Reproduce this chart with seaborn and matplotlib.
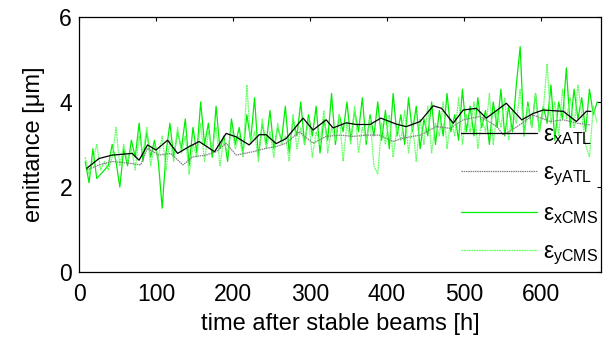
import numpy as np
import seaborn as sns
import matplotlib
matplotlib.use('Agg')
from matplotlib import pyplot as plt

# ATLAS emittances (smoothed, irregular sampling) [h], [um]
t_x_atl = [10, 26, 43, 69, 78, 89, 100, 115, 128, 143, 156, 176, 191, 204, 221, 234,
           243, 256, 269, 291, 304, 321, 330, 347, 360, 378, 392, 412, 425, 443, 460,
           471, 486, 499, 516, 529, 555, 575, 590, 603, 629, 646, 659, 665]
eps_x_atl = [2.44, 2.67, 2.75, 2.79, 2.63, 2.99, 2.87, 3.10, 2.79, 2.95, 3.07, 2.83,
             3.26, 3.18, 2.99, 3.23, 3.23, 3.02, 3.14, 3.62, 3.34, 3.58, 3.39, 3.51,
             3.47, 3.47, 3.62, 3.48, 3.42, 3.54, 3.91, 3.85, 3.50, 3.81, 3.85, 3.62,
             3.97, 3.58, 3.73, 3.81, 3.78, 3.54, 3.78, 3.78]

t_y_atl = [10, 26, 43, 65, 80, 89, 104, 119, 135, 148, 165, 178, 191, 204, 226, 243,
           256, 269, 286, 304, 321, 339, 356, 373, 390, 408, 421, 443, 464, 482, 499,
           521, 543, 551, 569, 590, 612, 629, 647, 664]
eps_y_atl = [2.40, 2.52, 2.60, 2.56, 2.52, 2.91, 2.75, 2.79, 2.52, 2.71, 2.75, 2.83,
             3.03, 2.75, 2.83, 2.91, 2.95, 3.03, 3.30, 3.03, 3.19, 3.22, 3.19, 3.22,
             3.22, 3.07, 3.15, 3.22, 3.42, 3.38, 3.58, 3.66, 3.42, 3.22, 3.42, 3.69,
             3.54, 3.58, 3.50, 3.46]

# CMS emittances, one value every 5 h starting at 8 h
cms_t0, cms_dt = 8, 5
eps_x_cms = [
    2.6, 2.1, 2.9, 2.2, 2.3, 2.4, 2.5, 3.0, 2.6, 2.0,
    2.9, 2.5, 3.1, 2.7, 3.5, 2.6, 3.3, 2.7, 3.1, 2.6,
    1.5, 2.8, 3.5, 2.7, 3.3, 2.9, 3.6, 2.5, 3.4, 2.8,
    4.0, 3.0, 3.5, 2.7, 3.9, 2.9, 3.2, 2.6, 3.6, 3.0,
    3.4, 2.8, 3.7, 3.1, 4.1, 2.7, 3.5, 3.0, 3.8, 2.9,
    3.4, 3.1, 3.9, 2.8, 3.6, 3.2, 4.0, 3.0, 3.7, 3.2,
    3.9, 2.8, 3.6, 3.1, 4.2, 3.0, 3.7, 3.3, 4.0, 3.1,
    3.8, 3.3, 4.1, 3.0, 3.7, 3.2, 4.0, 3.1, 3.8, 2.9,
    4.2, 3.2, 3.7, 3.0, 4.1, 3.3, 3.9, 2.9, 3.6, 3.2,
    4.0, 3.0, 3.8, 3.2, 4.2, 3.3, 3.7, 3.1, 4.3, 3.3,
    3.9, 3.2, 4.1, 3.4, 3.8, 3.0, 4.0, 3.4, 4.3, 3.2,
    3.9, 3.3, 4.4, 5.3, 3.2, 4.0, 3.4, 4.2, 3.3, 3.9,
    3.5, 4.4, 3.1, 4.0, 3.6, 4.8, 3.4, 4.3, 3.6, 4.1,
    3.3, 4.3, 3.7, 4.0]
eps_y_cms = [
    2.7, 2.3, 2.6, 3.0, 2.4, 2.6, 2.4, 2.7, 3.4, 2.5,
    3.0, 2.6, 2.9, 2.4, 3.2, 2.8, 3.4, 2.5, 3.0, 2.7,
    3.2, 2.4, 3.1, 2.6, 3.4, 2.8, 3.2, 2.3, 3.0, 2.7,
    3.5, 2.6, 3.3, 2.9, 3.4, 2.5, 3.1, 2.8, 3.4, 2.9,
    3.2, 2.7, 4.4, 3.0, 3.3, 2.6, 3.6, 2.9, 3.3, 2.7,
    3.5, 3.0, 3.2, 2.6, 3.7, 2.9, 3.4, 3.0, 3.6, 2.7,
    3.3, 3.0, 3.8, 2.8, 3.4, 3.1, 3.7, 2.6, 3.5, 3.0,
    3.9, 2.8, 3.4, 3.1, 3.6, 2.5, 2.3, 3.5, 3.0, 3.7,
    2.7, 3.4, 3.1, 3.8, 2.8, 3.5, 2.6, 3.6, 3.0, 3.9,
    2.8, 3.5, 3.2, 4.0, 2.9, 3.6, 3.2, 4.1, 3.0, 3.7,
    3.3, 4.0, 2.9, 3.6, 3.3, 4.2, 3.0, 3.8, 3.4, 4.1,
    3.1, 3.8, 3.5, 4.3, 3.2, 3.9, 3.4, 4.2, 3.3, 3.8,
    4.9, 3.5, 4.0, 3.2, 4.3, 3.6, 4.1, 3.4, 4.4, 3.7,
    3.0, 2.7, 3.9, 3.5]

t_x_cms = cms_t0 + cms_dt * np.arange(len(eps_x_cms))
t_y_cms = cms_t0 + cms_dt * np.arange(len(eps_y_cms))

labels = [r'ε$_{\mathrm{xATL}}$', r'ε$_{\mathrm{yATL}}$',
          r'ε$_{\mathrm{xCMS}}$', r'ε$_{\mathrm{yCMS}}$']

sns.set_theme(style='white')
plt.rcParams['font.family'] = ['Liberation Sans', 'DejaVu Sans']
plt.rcParams['mathtext.fontset'] = 'custom'
plt.rcParams['mathtext.rm'] = 'Liberation Sans'
plt.rcParams['mathtext.it'] = 'Liberation Sans:italic'
plt.rcParams['text.color'] = 'black'
plt.rcParams['axes.labelcolor'] = 'black'

fig = plt.figure(figsize=(6.08, 3.39), dpi=100)
ax = fig.add_axes([0.13, 0.1976, 0.8585, 0.7524])

sns.lineplot(x=t_x_atl, y=eps_x_atl, color='black', linewidth=0.9,
             label=labels[0], ax=ax, zorder=4)
sns.lineplot(x=t_y_atl, y=eps_y_atl, color='#808080', linewidth=0.9,
             linestyle=(0, (1.2, 0.6)), label=labels[1], ax=ax, zorder=3)
sns.lineplot(x=t_x_cms, y=eps_x_cms, color='#00ee00', linewidth=0.9,
             label=labels[2], ax=ax, zorder=2)
sns.lineplot(x=t_y_cms, y=eps_y_cms, color='#66ff66', linewidth=0.9,
             linestyle=(0, (1.5, 0.5)), label=labels[3], ax=ax, zorder=2)

ax.set_xlim(0, 678)
ax.set_ylim(0, 6)
ax.set_xticks([0, 100, 200, 300, 400, 500, 600])
ax.set_yticks([0, 2, 4, 6])
ax.tick_params(direction='in', length=3, width=0.8, top=True, right=True,
               labelsize=16.5, colors='black')
ax.tick_params(axis='x', pad=8)
ax.tick_params(axis='y', pad=5)
for s in ax.spines.values():
    s.set_color('black')
    s.set_linewidth(0.9)

ax.set_xlabel('time after stable beams [h]', fontsize=17, labelpad=5)
ax.set_ylabel('emittance [μm]', fontsize=17, labelpad=10)

leg = ax.legend(loc='upper left', bbox_to_anchor=(0.715, 0.62), frameon=False,
                fontsize=16.5, handlelength=3.3, labelspacing=0.62,
                handletextpad=0.25, borderaxespad=0)

fig.savefig('out.png', dpi=100)
